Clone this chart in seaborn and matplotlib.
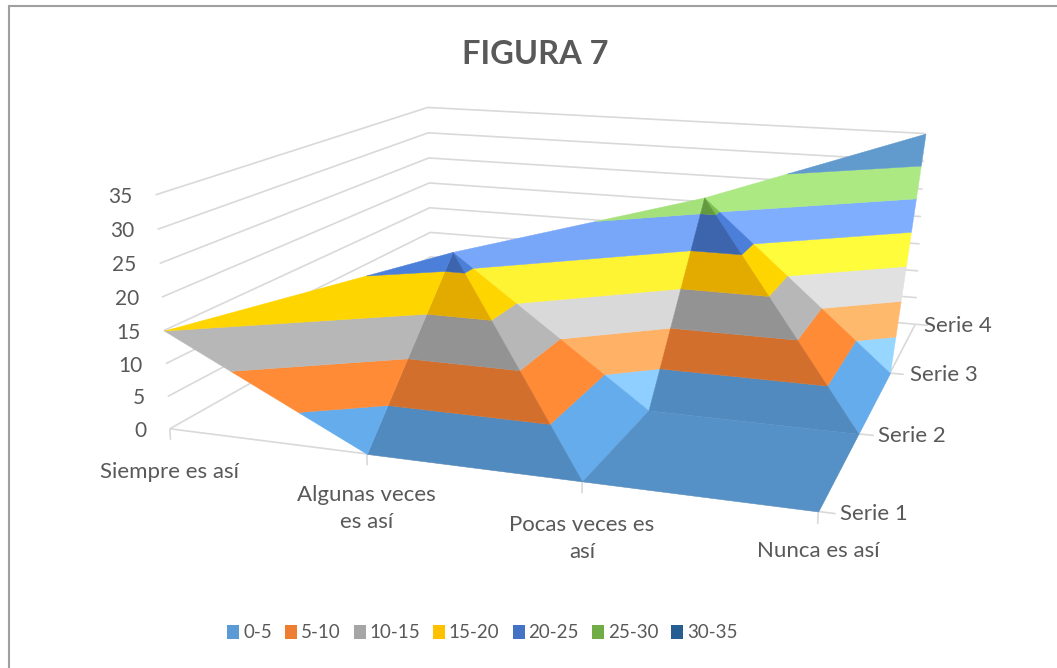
import numpy as np
import matplotlib
matplotlib.use("Agg")
import matplotlib.pyplot as plt
import seaborn as sns
from matplotlib.lines import Line2D
from matplotlib.patches import Patch
from mpl_toolkits.mplot3d import proj3d
from mpl_toolkits.mplot3d.art3d import Poly3DCollection

sns.set_theme(style="white")
plt.rcParams['font.family'] = ['Lato', 'DejaVu Sans']

categories = ["Siempre es así", "Algunas veces\nes así", "Pocas veces es\nasí", "Nunca es así"]
series_names = ["Serie 1", "Serie 2", "Serie 3", "Serie 4"]
serie1 = [15, 0, 0, 0]
serie2 = [0, 22.3, 0, 0]
serie3 = [0, 0, 27.2, 0]
serie4 = [0, 0, 0, 35]
z_ticks = [0, 5, 10, 15, 20, 25, 30, 35]
bands = ["0-5", "5-10", "10-15", "15-20", "20-25", "25-30", "30-35"]
band_colors = ["#5B9BD5", "#ED7D31", "#A5A5A5", "#FFC000", "#4472C4", "#70AD47", "#255E91"]

Z = np.array([serie1, serie2, serie3, serie4], float)
palette = np.array(sns.color_palette(band_colors))

W, H = 1057, 668
GREY = "#595959"

# triangles of the surface that can be seen, back to front: (cat, serie) corners
# and the (diffuse, highlight) of the facet, Excel lights each one on its own
facets = [
    ([(2, 2), (3, 2), (3, 3)], (1.0, 60)),
    ([(1, 1), (2, 1), (2, 2)], (1.0, 52)),
    ([(3, 1), (3, 2), (2, 2)], (1.11, 0)),
    ([(2, 1), (3, 1), (2, 2)], (0.89, 0)),
    ([(2, 0), (2, 1), (1, 1)], (1.11, 0)),
    ([(1, 0), (2, 0), (1, 1)], (0.89, 0)),
    ([(0, 0), (1, 0), (1, 1)], (1.11, 0)),
    ([(2, 0), (3, 0), (3, 1), (2, 1)], (0.93, 0)),
]


def clip_band(poly, lo, hi):
    # cut a polygon to lo <= z <= hi
    for level, sign in ((lo, 1), (hi, -1)):
        out = []
        for a, b in zip(poly, poly[1:] + poly[:1]):
            da, db = sign * (a[2] - level), sign * (b[2] - level)
            if da >= 0:
                out.append(a)
            if da * db < 0:
                t = da / (da - db)
                out.append(tuple(np.array(a) + t * (np.array(b) - np.array(a))))
        poly = out
        if not poly:
            break
    return poly


fig = plt.figure(figsize=(W / 100, H / 100), dpi=100, facecolor="white")
s, tx, ty = 4499.21, 582.49, 267.56   # px per view unit and view origin
L = s * 0.185
ax = fig.add_axes([(tx - .095 * s) / W, (H - ty - .095 * s) / H, L / W, L / H], projection='3d')
ax.set_xlim(0, 3, view_margin=0)
ax.set_ylim(0, 3, view_margin=0)
ax.set_zlim(0, 35, view_margin=0)
ax.view_init(13.71, -71.21, -0.167)
ax.set_proj_type('persp', focal_length=0.3579)
ax.set_box_aspect((2.7433, 2.6821, 1))
ax.set_axis_off()
ax.computed_zorder = False
ax.patch.set_alpha(0)

# walls and floor
grid = dict(color="#D9D9D9", lw=1.2, zorder=1, solid_capstyle='butt')
for z in z_ticks:
    ax.plot([0, 0, 3], [0, 3, 3], [z, z, z], **grid)
ax.plot([0, 3, 3], [0, 0, 3], [0, 0, 0], **grid)
for i in range(4):
    ax.plot([i, i], [0, 0], [0, -1.7], **grid)
    ax.plot([3, 3.07], [i, i], [0, 0], **grid)

# surface, one polygon per facet and band
order = 2
for corners, (diffuse, spec) in facets:
    poly = [(i, j, Z[j, i]) for i, j in corners]
    for k in range(len(bands)):
        part = clip_band(poly, z_ticks[k], z_ticks[k + 1])
        if len(part) < 3:
            continue
        col = np.clip(palette[k] * diffuse + spec / 255, 0, 1)
        pc = Poly3DCollection([part], facecolors=[col], edgecolors=[col], linewidths=0.3, zorder=order)
        ax.add_collection3d(pc, autolim=False)
        order += 1


def view_xy(x, y, z):
    u, v, _ = proj3d.proj_transform(x, y, z, ax.get_proj())
    return u, v


txt = dict(textcoords='offset pixels', color=GREY, annotation_clip=False, zorder=100)
for z in z_ticks:
    ax.annotate(str(z), xy=view_xy(0, 0, z), xytext=(-23, 0), ha='right', va='center_baseline', fontsize=15, **txt)
cat_drop = [-43, -55, -57, -40]
for i, name in enumerate(categories):
    ax.annotate(name, xy=view_xy(i, 0, 0), xytext=(0, cat_drop[i]), ha='center', va='center', linespacing=1.44,
                fontsize=16, **txt)
serie_gap = [(22, -3), (20, -2), (20, -2), (9, -2)]
for j, name in enumerate(series_names):
    ax.annotate(name, xy=view_xy(3, j, 0), xytext=serie_gap[j], ha='left', va='center', fontsize=16, **txt)

fig.text(535 / W, 1 - 55 / H, "FIGURA 7", ha='center', va='center', fontsize=23.5, fontweight='bold', color=GREY)

handles = [Patch(facecolor=c, edgecolor='none', label=b) for c, b in zip(band_colors, bands)]
fig.legend(handles=handles, loc='center', bbox_to_anchor=(482.5 / W, 1 - 633 / H), ncol=7, frameon=False,
           fontsize=13.5, labelcolor=GREY, handlelength=0.64, handleheight=0.75, handletextpad=0.2,
           columnspacing=0.7, borderpad=0, borderaxespad=0)

# only the top and left edges of the chart border are in the picture
edge = dict(color="#A0A0A0", lw=1.5, transform=fig.transFigure)
fig.add_artist(Line2D([8.5 / W, 1], [1 - 5.5 / H, 1 - 5.5 / H], **edge))
fig.add_artist(Line2D([8.5 / W, 8.5 / W], [1 - 5.5 / H, 0], **edge))

fig.savefig("out.png", dpi=100)
